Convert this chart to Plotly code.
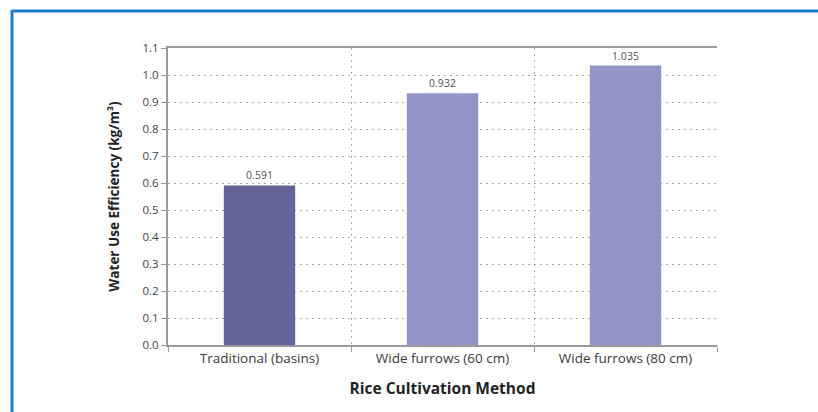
import plotly.graph_objects as go

categories = ["Traditional (basins)", "Wide furrows (60 cm)", "Wide furrows (80 cm)"]
values = [0.591, 0.932, 1.035]
value_labels = ["0.591", "0.932", "1.035"]
bar_colors = ["#64639a", "#9294c8", "#9294c8"]
y_ticks = [0.0, 0.1, 0.2, 0.3, 0.4, 0.5, 0.6, 0.7, 0.8, 0.9, 1.0, 1.1]

W, H = 818, 412
L, R, T, B = 168, 101, 48, 67
pw, ph = W - L - R, H - T - B

def px_x(x):
    return (x - L) / pw

def px_y(y):
    return (H - B - y) / ph

fig = go.Figure()
fig.add_trace(go.Bar(
    x=categories, y=values, marker=dict(color=bar_colors, line=dict(width=0)),
    text=value_labels, textposition="outside", cliponaxis=False,
    textfont=dict(size=10.5, color="#555555", family="Open Sans"),
    width=0.39,
))

axis_gray = "#9a9a9a"
grid_gray = "#a8a8a8"
fig.update_layout(
    width=W, height=H, margin=dict(l=L, r=R, t=T, b=B),
    paper_bgcolor="white", plot_bgcolor="white", showlegend=False,
    font=dict(family="Open Sans", color="#333333"),
    xaxis=dict(
        type="category", tickson="boundaries", showgrid=True,
        gridcolor=grid_gray, griddash="2px,4px", gridwidth=1,
        showline=True, linecolor=axis_gray, linewidth=2, mirror=True,
        ticks="outside", ticklen=5, tickcolor=axis_gray,
        tickfont=dict(size=13.5, color="#3a3a3a"),
        title=dict(text="<b>Rice Cultivation Method</b>", font=dict(size=15.5, color="#222222"), standoff=17),
    ),
    yaxis=dict(
        range=[0, 1.1], tickvals=y_ticks, tickformat=".1f",
        showgrid=True, gridcolor=grid_gray, griddash="2px,4px", gridwidth=1,
        showline=True, linecolor=axis_gray, linewidth=2, zeroline=False,
        ticks="outside", ticklen=5, tickcolor=axis_gray,
        tickfont=dict(size=11.5, color="#444444"),
        title=dict(text="<b>Water Use Efficiency (kg/m³)</b>", font=dict(size=13.5, color="#222222"), standoff=20),
    ),
    bargap=0.6,
)

frame_color = "#1a7fd0"
fig.add_shape(type="line", xref="paper", yref="paper",
              x0=px_x(12), x1=px_x(830), y0=px_y(11), y1=px_y(11),
              line=dict(color=frame_color, width=3))
fig.add_shape(type="line", xref="paper", yref="paper",
              x0=px_x(12), x1=px_x(12), y0=px_y(10), y1=px_y(430),
              line=dict(color=frame_color, width=3))

fig.write_html("out.html")
